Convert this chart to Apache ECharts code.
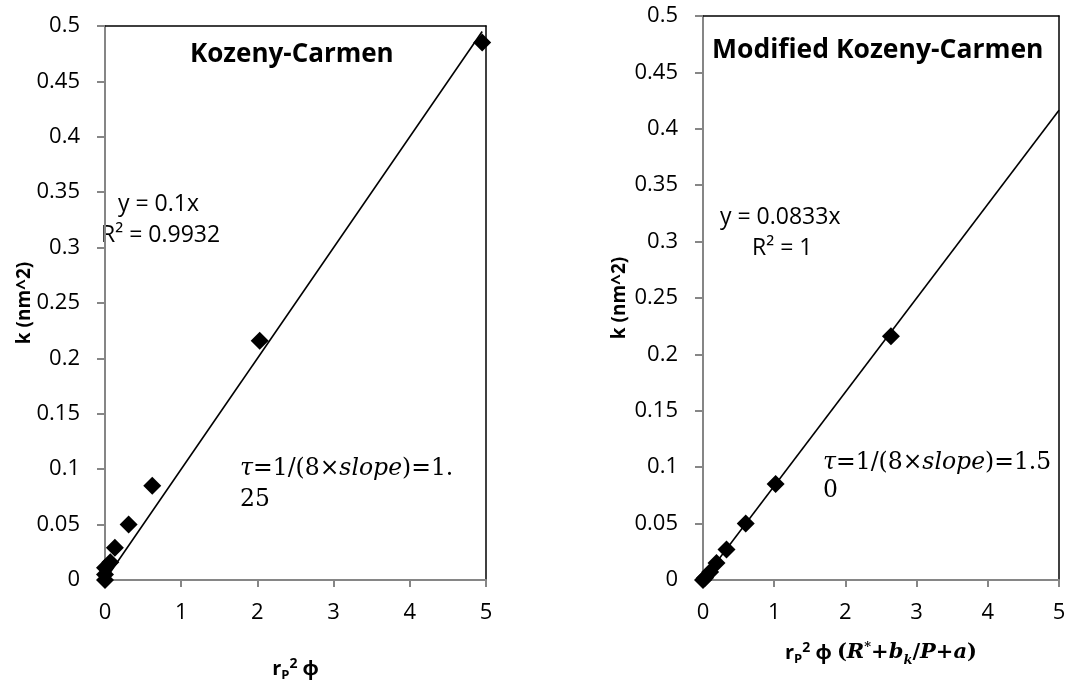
<!DOCTYPE html>
<html>
<head>
<meta charset="utf-8">
<title>Kozeny-Carmen</title>
<script src="https://cdn.jsdelivr.net/npm/echarts@6/dist/echarts.min.js"></script>
<style>
  html, body { margin: 0; padding: 0; background: #fff; }
  #chart { width: 1067px; height: 683px; }
</style>
</head>
<body>
<div id="chart"></div>
<script>
// Kozeny-Carmen: k against rP^2 phi
const kcX = [0, 0, 0, 0.07, 0.13, 0.31, 0.62, 2.03, 4.95];
const kcY = [0, 0.005, 0.011, 0.016, 0.029, 0.05, 0.085, 0.216, 0.485];
const kcSlope = 0.1;
const kcFitRange = [0, 4.95];

// Modified Kozeny-Carmen: k against rP^2 phi (R*+bk/P+a)
const mkcX = [0, 0.03, 0.1, 0.19, 0.33, 0.6, 1.02, 2.64];
const mkcY = [0, 0.002, 0.007, 0.015, 0.027, 0.05, 0.085, 0.216];
const mkcSlope = 0.0833;
const mkcFitRange = [0, 5];

// axis ranges
const xRange = [0, 5, 1];
const yRange = [0, 0.5, 0.05];

const SANS = '"Open Sans", "Noto Sans", sans-serif';
const SERIF = '"DejaVu Serif", serif';
const AXIS_GREY = '#868686';

const pairs = (xs, ys) => xs.map((x, i) => [x, ys[i]]);
const fitLine = (slope, range) => range.map(x => [x, slope * x]);

function mainX(gridIndex, name, gap) {
  return {
    type: 'value', gridIndex, min: xRange[0], max: xRange[1], interval: xRange[2],
    position: 'bottom',
    axisLine: { show: true, onZero: false, lineStyle: { color: AXIS_GREY, width: 2 } },
    axisTick: { show: true, length: 7, lineStyle: { color: AXIS_GREY, width: 2 } },
    axisLabel: { margin: 22, color: '#000', fontFamily: SANS, fontSize: 22 },
    splitLine: { show: false },
    name, nameLocation: 'middle', nameGap: gap, nameMoveOverlap: false,
    nameTextStyle: {
      color: '#000',
      rich: {
        b: { fontFamily: SANS, fontWeight: 'bold', fontSize: 20, lineHeight: 30 },
        sub: { fontFamily: SANS, fontWeight: 'bold', fontSize: 13, lineHeight: 30, verticalAlign: 'bottom', padding: [0, 0, 2, 0] },
        sup: { fontFamily: SANS, fontWeight: 'bold', fontSize: 14, lineHeight: 30, verticalAlign: 'top', padding: [3, 0, 0, 0] },
        bi: { fontFamily: SERIF, fontWeight: 'bold', fontStyle: 'italic', fontSize: 21, lineHeight: 30 },
        bisup: { fontFamily: SERIF, fontWeight: 'bold', fontStyle: 'italic', fontSize: 13, lineHeight: 30, verticalAlign: 'top', padding: [3, 0, 0, 0] },
        bisub: { fontFamily: SERIF, fontWeight: 'bold', fontStyle: 'italic', fontSize: 13, lineHeight: 30, verticalAlign: 'bottom', padding: [0, 0, 1, 0] },
        bs: { fontFamily: SERIF, fontWeight: 'bold', fontSize: 21, lineHeight: 30 }
      }
    }
  };
}
function mainY(gridIndex, gap) {
  return {
    type: 'value', gridIndex, min: yRange[0], max: yRange[1], interval: yRange[2],
    position: 'left',
    axisLine: { show: true, onZero: false, lineStyle: { color: AXIS_GREY, width: 2 } },
    axisTick: { show: true, length: 8, lineStyle: { color: AXIS_GREY, width: 2 } },
    axisLabel: { margin: 25, color: '#000', fontFamily: SANS, fontSize: 22 },
    splitLine: { show: false },
    name: 'k (nm^2)', nameLocation: 'middle', nameRotate: 90, nameGap: gap, nameMoveOverlap: false,
    nameTextStyle: { color: '#000', fontFamily: SANS, fontWeight: 'bold', fontSize: 19 }
  };
}
// black frame on the top and right of each plot
function frameX(gridIndex) {
  return {
    type: 'value', gridIndex, min: xRange[0], max: xRange[1], position: 'top',
    axisLine: { show: true, onZero: false, lineStyle: { color: '#000', width: 1.5 } },
    axisTick: { show: false }, axisLabel: { show: false }, splitLine: { show: false }
  };
}
function frameY(gridIndex) {
  return {
    type: 'value', gridIndex, min: yRange[0], max: yRange[1], position: 'right',
    axisLine: { show: true, onZero: false, lineStyle: { color: '#000', width: 1.5 } },
    axisTick: { show: false }, axisLabel: { show: false }, splitLine: { show: false }
  };
}

function scatter(xi, yi, data) {
  return {
    type: 'scatter', xAxisIndex: xi, yAxisIndex: yi, data,
    symbol: 'diamond', symbolSize: 18, z: 4,
    itemStyle: { color: '#000', opacity: 1 }, clip: true
  };
}
function trend(xi, yi, data) {
  return {
    type: 'line', xAxisIndex: xi, yAxisIndex: yi, data,
    showSymbol: false, symbol: 'none', z: 3, clip: true,
    lineStyle: { color: '#000', width: 1.6 }
  };
}

const textStyle = (text, x, y, font, extra) => ({
  type: 'text', x, y,
  style: Object.assign({ text, font, fill: '#000', textAlign: 'left', textVerticalAlign: 'middle' }, extra || {})
});
const tauRich = { i: { fontFamily: SERIF, fontStyle: 'italic', fontSize: 23.5 } };

const chart = echarts.init(document.getElementById('chart'), null, { renderer: 'canvas' });
chart.setOption({
  animation: false,
  backgroundColor: '#fff',
  grid: [
    { left: 105, right: 581, top: 26, bottom: 103, outerBoundsMode: 'none', containLabel: false },
    { left: 703, right: 8, top: 16, bottom: 103, outerBoundsMode: 'none', containLabel: false }
  ],
  xAxis: [
    mainX(0, '{b|r}{sub|P}{sup|2}{b| ϕ}', 74),
    frameX(0),
    mainX(1, '{b|r}{sub|P}{sup|2}{b| ϕ }{bs|(}{bi|R}{bisup|*}{bs|+}{bi|b}{bisub|k}{bs|/}{bi|P}{bs|+}{bi|a}{bs|)}', 58),
    frameX(1)
  ],
  yAxis: [
    mainY(0, 71),
    frameY(0),
    mainY(1, 74),
    frameY(1)
  ],
  series: [
    trend(0, 0, fitLine(kcSlope, kcFitRange)),
    scatter(0, 0, pairs(kcX, kcY)),
    trend(2, 2, fitLine(mkcSlope, mkcFitRange)),
    scatter(2, 2, pairs(mkcX, mkcY))
  ],
  graphic: [
    textStyle('Kozeny-Carmen', 190, 55, 'bold 26px ' + SANS),
    textStyle('Modified Kozeny-Carmen', 712, 50, 'bold 26.5px ' + SANS),
    textStyle('y = 0.1x', 118, 204, '23px ' + SANS),
    textStyle('R² = 0.9932', 101, 235, '23px ' + SANS),
    textStyle('y = 0.0833x', 720, 217, '23px ' + SANS),
    textStyle('R² = 1', 752, 248, '23px ' + SANS),
    textStyle('{i|τ}=1/(8×{i|slope})=1.', 240, 469, '23.5px ' + SERIF, { rich: tauRich }),
    textStyle('25', 240, 500, '23.5px ' + SERIF),
    textStyle('{i|τ}=1/(8×{i|slope})=1.5', 823, 463, '23.5px ' + SERIF, { rich: tauRich }),
    textStyle('0', 823, 491, '23.5px ' + SERIF)
  ]
});
</script>
</body>
</html>
